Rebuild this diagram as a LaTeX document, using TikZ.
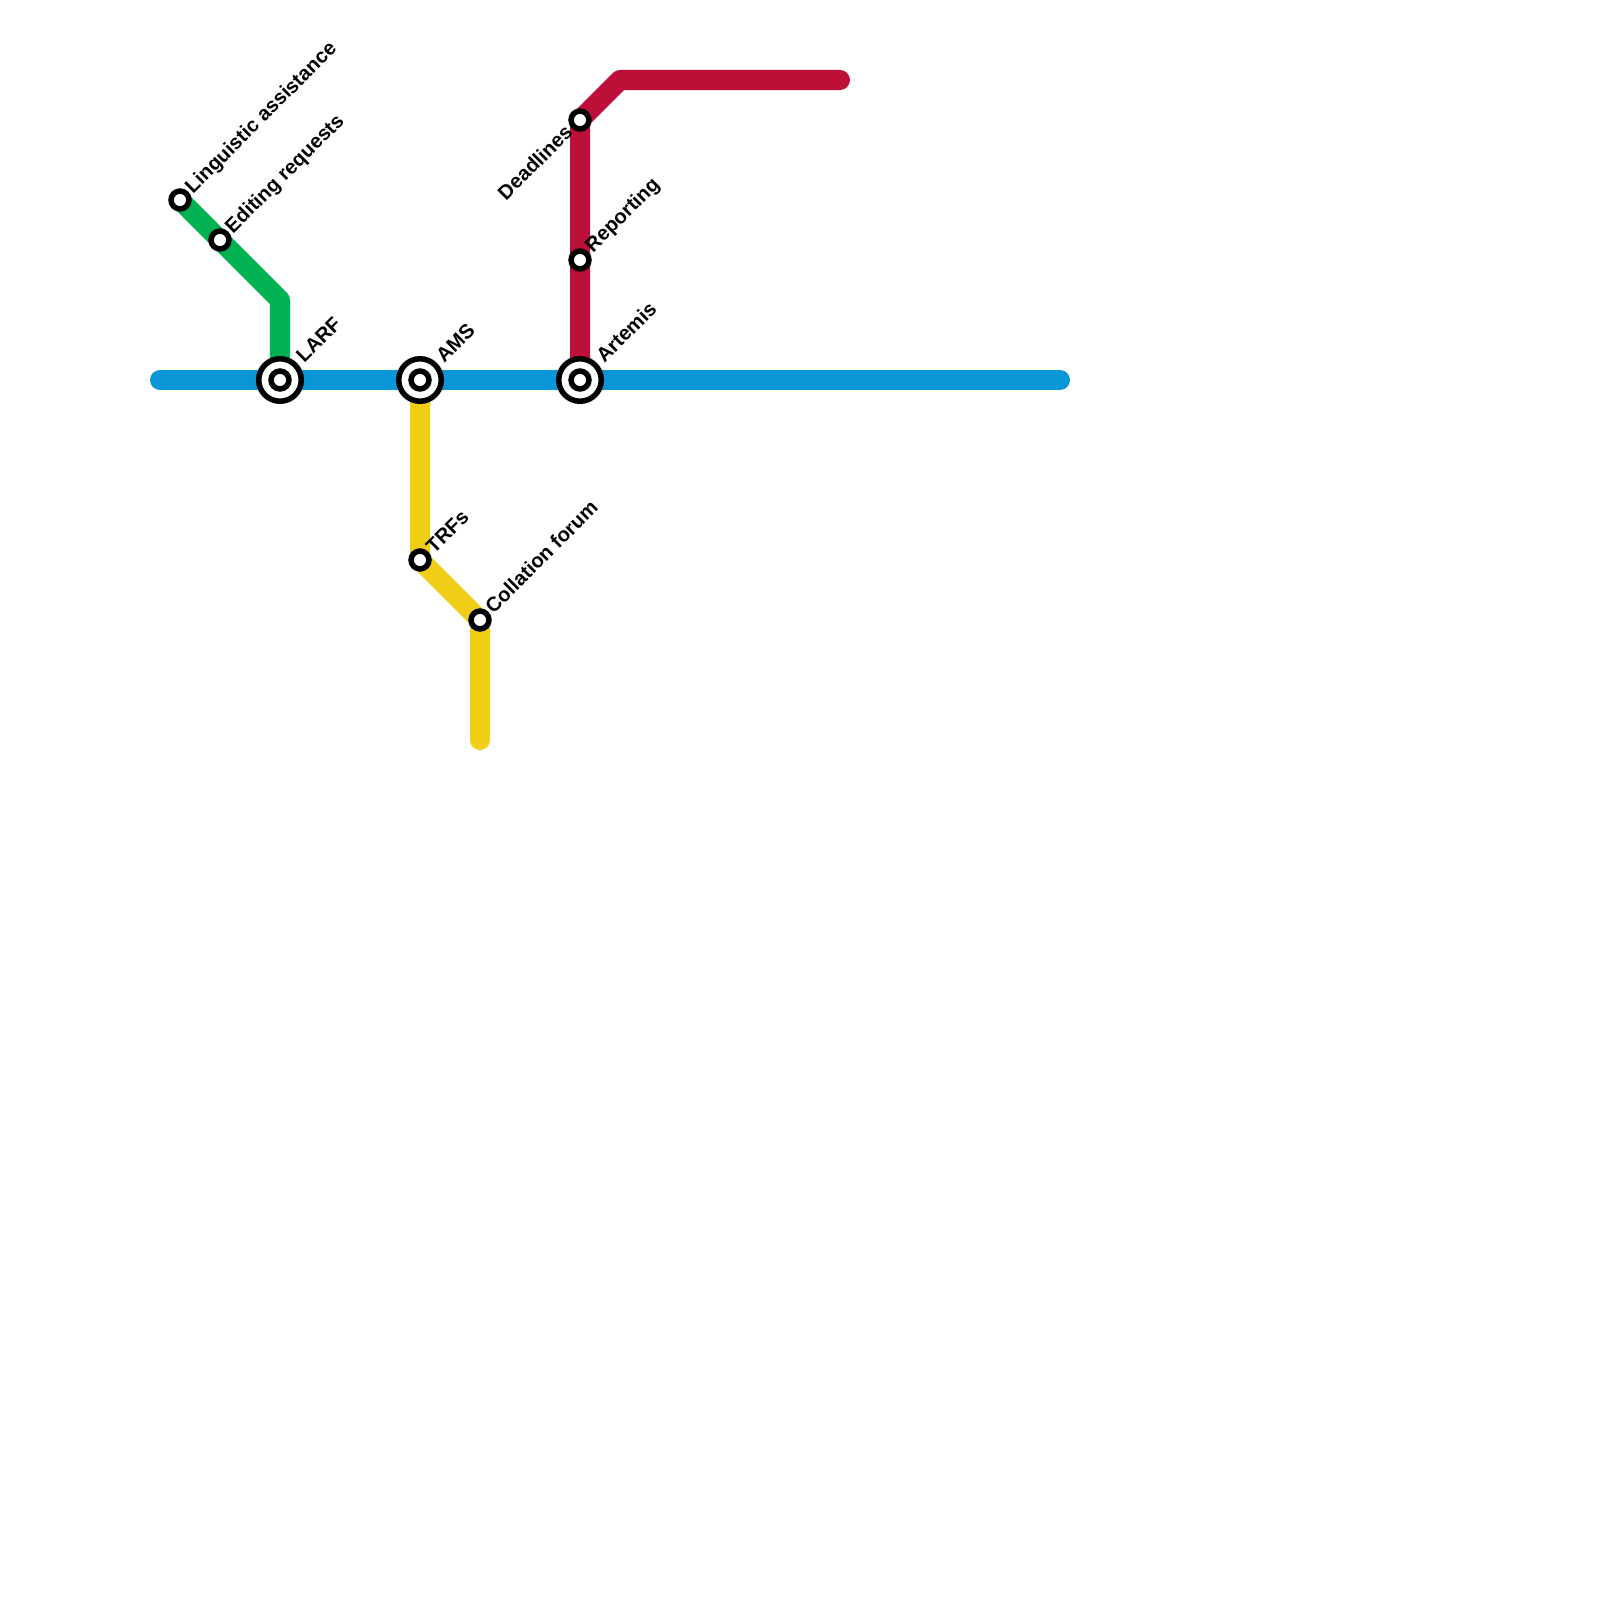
\documentclass[tikz,border=0pt]{standalone}
\usepackage{fontspec}
\setmainfont{Liberation Sans}
\definecolor{lineblue}{HTML}{0896D7}
\definecolor{linegreen}{HTML}{00B251}
\definecolor{linered}{HTML}{BD1038}
\definecolor{lineyellow}{HTML}{F0CE15}
\usetikzlibrary{calc,backgrounds}
\tikzset{
  track/.style={line width=0.2cm,line cap=round,line join=round},
  stn/.style={circle,draw=black,line width=0.055cm,fill=white,minimum size=0.179cm,inner sep=0pt},
  hub/.style={stn,minimum size=0.425cm},
  lab/.style={font=\fontsize{5.74pt}{6pt}\selectfont\bfseries,rotate=45,inner sep=0pt},
}
\begin{document}
\begin{tikzpicture}[x=0.01cm,y=-0.01cm]
\useasboundingbox (0,0) rectangle (1600,1600);
% stations
\node[stn] (ling) at (180,200) {};
\node[stn] (edit) at (220,240) {};
\node[hub] (larfo) at (280,380) {};
\node[stn] (larf) at (280,380) {};
\node[hub] (amso) at (420,380) {};
\node[stn] (ams) at (420,380) {};
\node[hub] (artemo) at (580,380) {};
\node[stn] (artem) at (580,380) {};
\node[stn] (dead) at (580,120) {};
\node[stn] (report) at (580,260) {};
\node[stn] (trf) at (420,560) {};
\node[stn] (coll) at (480,620) {};
% line ends and bends
\coordinate (bw) at (160,380);
\coordinate (be) at (1060,380);
\coordinate (gb) at (280,300);
\coordinate (rb) at (620,80);
\coordinate (re) at (840,80);
\coordinate (ye) at (480,740);
\begin{scope}[on background layer]
\draw[track,lineblue] (bw)--(be);
\draw[track,linegreen] (ling.center)--(edit.center)--(gb)--(larf.center);
\draw[track,linered] (artem.center)--(report.center)--(dead.center)--(rb)--(re);
\draw[track,lineyellow] (ams.center)--(trf.center)--(coll.center)--(ye);
\end{scope}
% labels
\node[lab,anchor=west] (lingl) at ($(ling)+(9,-9)$) {Linguistic assistance};
\node[lab,anchor=west] (editl) at ($(edit)+(9,-9)$) {Editing requests};
\node[lab,anchor=west] (larfl) at ($(larf)+(19,-21)$) {LARF};
\node[lab,anchor=west] (amsl) at ($(ams)+(19,-21)$) {AMS};
\node[lab,anchor=west] (arteml) at ($(artem)+(19,-21)$) {Artemis};
\node[lab,anchor=west] (reportl) at ($(report)+(9,-10)$) {Reporting};
\node[lab,anchor=east] (deadl) at ($(dead)+(-11,8)$) {Deadlines};
\node[lab,anchor=west] (trfl) at ($(trf)+(9,-10)$) {TRFs};
\node[lab,anchor=west] (colll) at ($(coll)+(8,-10)$) {Collation forum};
\end{tikzpicture}
\end{document}
